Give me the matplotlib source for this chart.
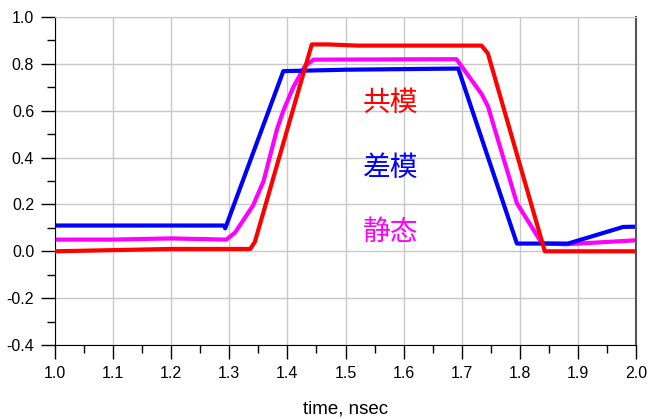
import matplotlib
matplotlib.use('Agg')
import matplotlib.pyplot as plt
from matplotlib.ticker import MultipleLocator

# Daten
t_red = [1.0, 1.1, 1.2, 1.336, 1.344, 1.442, 1.47, 1.52, 1.734, 1.745, 1.843, 2.0]
v_red = [0.0, 0.005, 0.01, 0.01, 0.04, 0.883, 0.883, 0.878, 0.878, 0.845, 0.0, 0.0]

t_blue = [1.0, 1.29, 1.293, 1.393, 1.5, 1.694, 1.795, 1.883, 1.978, 2.0]
v_blue = [0.11, 0.11, 0.098, 0.769, 0.775, 0.78, 0.033, 0.033, 0.104, 0.105]

t_mag = [1.0, 1.1, 1.2, 1.295, 1.31, 1.341, 1.359, 1.382, 1.393, 1.41, 1.43, 1.445,
         1.691, 1.734, 1.745, 1.795, 1.838, 1.88, 2.0]
v_mag = [0.05, 0.05, 0.055, 0.05, 0.08, 0.196, 0.30, 0.52, 0.60, 0.70, 0.79, 0.818,
         0.82, 0.672, 0.62, 0.205, 0.034, 0.03, 0.047]

labels = ['共模', '差模', '静态']
label_pos = [(1.578, 0.635), (1.578, 0.354), (1.578, 0.081)]
colors = ['#ff0000', '#0000ff', '#ff00ff']

fig = plt.figure(figsize=(6.53, 4.19), dpi=100)
ax = fig.add_axes([0.0842, 0.1766, 0.8898, 0.7828])

ax.plot(t_red, v_red, color=colors[0], lw=3, solid_joinstyle='round', zorder=3)
ax.plot(t_mag, v_mag, color=colors[2], lw=3, solid_joinstyle='round', zorder=2)
ax.plot(t_blue, v_blue, color=colors[1], lw=3, solid_joinstyle='round', zorder=2.5)

for lab, (x, y), c in zip(labels, label_pos, colors):
    ax.text(x, y, lab, color=c, fontsize=20, ha='center', va='center',
            family=['Noto Sans CJK SC', 'DejaVu Sans'])

ax.set_xlim(1.0, 2.0)
ax.set_ylim(-0.4, 1.0)
ax.xaxis.set_major_locator(MultipleLocator(0.1))
ax.xaxis.set_minor_locator(MultipleLocator(0.05))
ax.yaxis.set_major_locator(MultipleLocator(0.2))
ax.yaxis.set_minor_locator(MultipleLocator(0.1))
ax.xaxis.set_major_formatter(lambda v, p: f'{v:.1f}')
ax.yaxis.set_major_formatter(lambda v, p: f'{v:.1f}')

ax.grid(True, which='major', color='#c8c8c8', lw=1)
ax.tick_params(which='major', direction='out', length=10, width=1, labelsize=11.5, pad=5)
ax.tick_params(which='minor', direction='out', length=6, width=1)
for lbl in ax.get_xticklabels() + ax.get_yticklabels():
    lbl.set_family('Liberation Sans')

ax.spines['top'].set_color('#c8c8c8')
ax.spines['right'].set_color('#555555')
ax.spines['right'].set_linewidth(1.5)

ax.set_xlabel('time, nsec', fontsize=13.5, family='Liberation Sans', labelpad=14)

fig.savefig('out.png', dpi=100)
